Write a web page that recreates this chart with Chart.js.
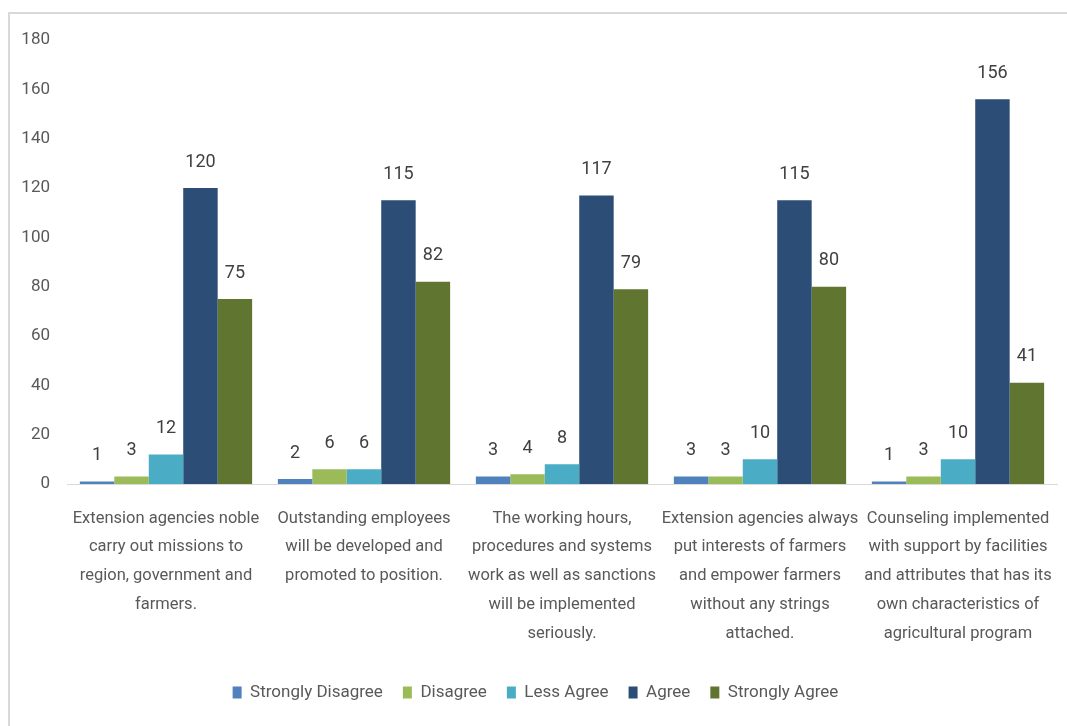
<!DOCTYPE html>
<html>
<head>
<meta charset="utf-8">
<script src="https://cdn.jsdelivr.net/npm/chart.js@4/dist/chart.umd.min.js"></script>
<style>
    html, body { margin: 0; padding: 0; background: #ffffff; }
    #frame {
        position: absolute; left: 8px; top: 12px; width: 1070px; height: 730px;
        border: 2px solid #d9d9d9; box-sizing: border-box;
    }
    #wrap { position: absolute; left: 0; top: 0; width: 1067px; height: 726px; }
</style>
</head>
<body>
<div id="frame"></div>
<div id="wrap"><canvas id="surveyChart"></canvas></div>
<script>
// Data
const categories = [
    ['Extension agencies noble', 'carry out missions to', 'region, government and', 'farmers.'],
    ['Outstanding employees', 'will be developed and', 'promoted to position.'],
    ['The working hours,', 'procedures and systems', 'work as well as sanctions', 'will be implemented', 'seriously.'],
    ['Extension agencies always', 'put interests of farmers', 'and empower farmers', 'without any strings', 'attached.'],
    ['Counseling implemented', 'with support by facilities', 'and attributes that has its', 'own characteristics of', 'agricultural program']
];
const seriesNames = ['Strongly Disagree', 'Disagree', 'Less Agree', 'Agree', 'Strongly Agree'];
const stronglyDisagree = [1, 2, 3, 3, 1];
const disagree = [3, 6, 4, 3, 3];
const lessAgree = [12, 6, 8, 10, 10];
const agree = [120, 115, 117, 115, 156];
const stronglyAgree = [75, 82, 79, 80, 41];
const yTicks = [0, 20, 40, 60, 80, 100, 120, 140, 160, 180];

const colors = ['#4f81bd', '#9bbb59', '#4bacc6', '#2c4d75', '#5f7530'];
const FONT = 'Roboto, "Liberation Sans", sans-serif';

// Value labels above bars
const valueLabels = {
    id: 'valueLabels',
    afterDatasetsDraw(chart) {
        const ctx = chart.ctx;
        ctx.save();
        ctx.font = '18px ' + FONT;
        ctx.fillStyle = '#404040';
        ctx.textAlign = 'center';
        ctx.textBaseline = 'middle';
        chart.data.datasets.forEach((ds, i) => {
            chart.getDatasetMeta(i).data.forEach((bar, j) => {
                ctx.fillText(ds.data[j], bar.x, bar.y - 26);
            });
        });
        ctx.restore();
    }
};

const seriesData = [stronglyDisagree, disagree, lessAgree, agree, stronglyAgree];

new Chart(document.getElementById('surveyChart'), {
    type: 'bar',
    data: {
        labels: categories,
        datasets: seriesNames.map((name, i) => ({
            label: name,
            data: seriesData[i],
            backgroundColor: colors[i],
            borderWidth: 0,
            categoryPercentage: 0.87,
            barPercentage: 1
        }))
    },
    options: {
        responsive: true,
        maintainAspectRatio: false,
        animation: false,
        layout: { padding: { top: 40, right: 10, bottom: 15, left: 14 } },
        plugins: {
            tooltip: { enabled: false },
            legend: {
                position: 'bottom',
                labels: {
                    color: '#595959',
                    font: { family: FONT, size: 17 },
                    boxWidth: 9,
                    boxHeight: 12,
                    padding: 20
                }
            }
        },
        scales: {
            x: {
                grid: { display: false, drawTicks: false },
                border: { display: true, color: '#d9d9d9', width: 1 },
                ticks: {
                    color: '#595959',
                    font: { family: FONT, size: 16.5, lineHeight: 1.75 },
                    padding: 20,
                    maxRotation: 0,
                    autoSkip: false
                },
                afterFit(scale) {
                    scale.height = 180;
                    scale.paddingLeft = 0;
                    scale.paddingRight = 0;
                }
            },
            y: {
                min: 0,
                max: 180,
                grid: { display: false, drawTicks: false },
                border: { display: false },
                afterBuildTicks(scale) { scale.ticks = yTicks.map(v => ({ value: v })); },
                ticks: {
                    color: '#595959',
                    font: { family: FONT, size: 17 },
                    padding: 17
                },
                afterFit(scale) { scale.width = 53; }
            }
        }
    },
    plugins: [valueLabels]
});
</script>
</body>
</html>
